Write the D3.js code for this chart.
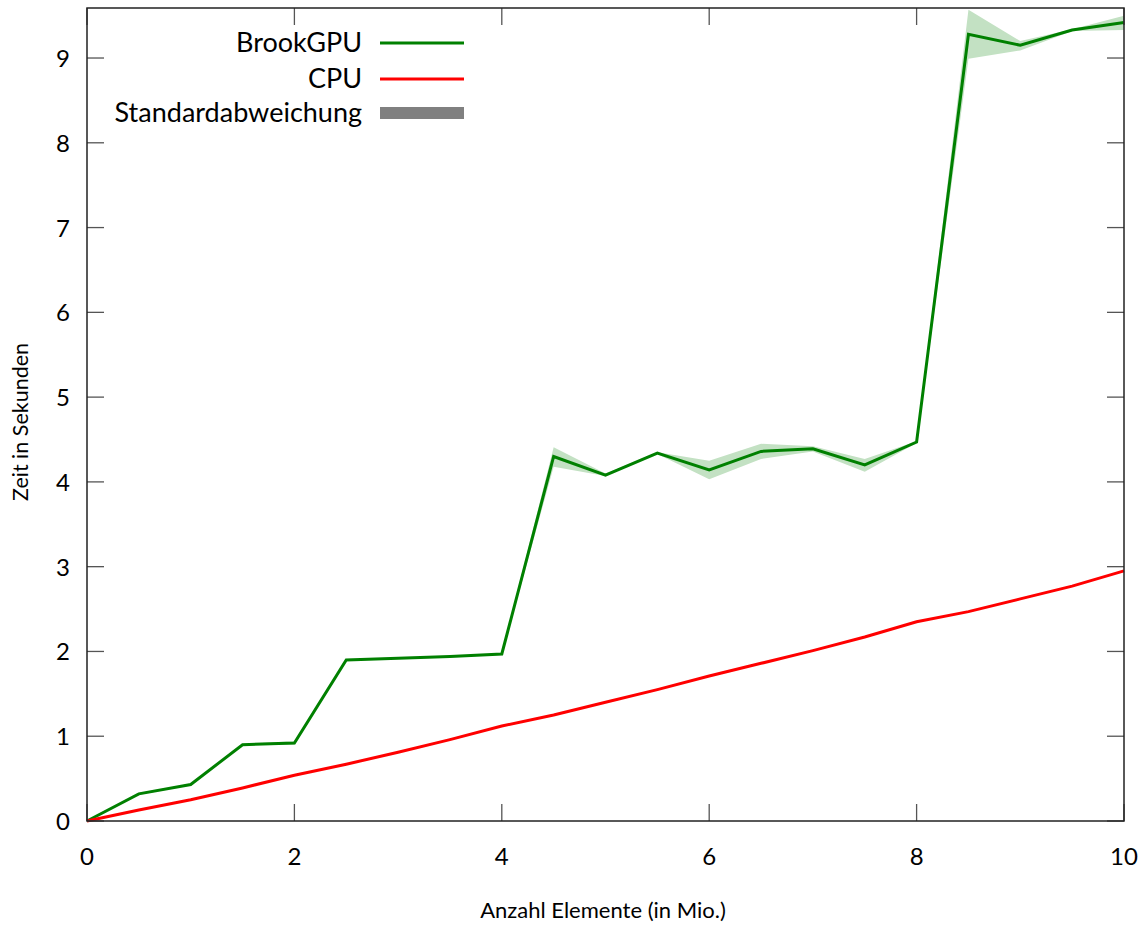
<!DOCTYPE html>
<html>
<head>
<meta charset="utf-8">
<script src="https://cdn.jsdelivr.net/npm/d3@7"></script>
<style>
  html, body { margin: 0; padding: 0; background: #fff; }
  svg text { font-family: Lato, "DejaVu Sans", sans-serif; fill: #000; }
</style>
</head>
<body>
<svg id="chart" width="1145" height="927"></svg>
<script>
// Problem size in millions of elements
const sizes = [0, 0.5, 1, 1.5, 2, 2.5, 3, 3.5, 4, 4.5, 5, 5.5, 6, 6.5, 7, 7.5, 8, 8.5, 9, 9.5, 10];
// Mean runtime (s) of the BrookGPU implementation
const gpuMean = [0, 0.32, 0.43, 0.90, 0.92, 1.90, 1.92, 1.94, 1.97, 4.30, 4.08, 4.34, 4.14, 4.36, 4.39, 4.20, 4.47, 9.28, 9.15, 9.33, 9.42];
// Standard deviation band of the BrookGPU runtimes (lower / upper)
const gpuLow  = [0, 0.31, 0.42, 0.89, 0.90, 1.89, 1.91, 1.93, 1.96, 4.18, 4.07, 4.33, 4.03, 4.27, 4.36, 4.12, 4.46, 8.99, 9.09, 9.32, 9.33];
const gpuHigh = [0, 0.33, 0.44, 0.91, 0.94, 1.91, 1.93, 1.95, 1.98, 4.41, 4.10, 4.35, 4.25, 4.45, 4.42, 4.27, 4.48, 9.57, 9.20, 9.34, 9.50];
// Mean runtime (s) on the CPU
const cpuMean = [0, 0.13, 0.25, 0.39, 0.54, 0.67, 0.81, 0.96, 1.12, 1.25, 1.40, 1.55, 1.71, 1.86, 2.01, 2.17, 2.35, 2.47, 2.62, 2.77, 2.95];

const xTicks = [0, 2, 4, 6, 8, 10];
const yTicks = [0, 1, 2, 3, 4, 5, 6, 7, 8, 9];
const legendLabels = ["BrookGPU", "CPU", "Standardabweichung"];

const svg = d3.select("#chart");
const plotL = 87, plotR = 1124, plotT = 8, plotB = 821;

const x = d3.scaleLinear().domain([0, 10]).range([plotL, plotR]);
const y = d3.scaleLinear().domain([0, 9.59]).range([plotB, plotT]);

const GREEN = "#008000", RED = "#ff0000", BAND = "#c3e1c3";

// standard deviation band
const area = d3.area()
  .x((d, i) => x(sizes[i]))
  .y0((d, i) => y(gpuLow[i]))
  .y1((d, i) => y(gpuHigh[i]));
svg.append("path").datum(sizes).attr("d", area).attr("fill", BAND);

const line = vals => d3.line().x((d, i) => x(sizes[i])).y((d, i) => y(vals[i]));
svg.append("path").attr("d", line(gpuMean)(sizes))
  .attr("fill", "none").attr("stroke", GREEN).attr("stroke-width", 3).attr("stroke-linejoin", "miter");
svg.append("path").attr("d", line(cpuMean)(sizes))
  .attr("fill", "none").attr("stroke", RED).attr("stroke-width", 3).attr("stroke-linejoin", "miter");

// mirrored ticks on all four sides
const TL = 17;
const tickG = svg.append("g").attr("stroke", "#555").attr("stroke-width", 1.3);
xTicks.forEach(t => {
  tickG.append("line").attr("x1", x(t)).attr("x2", x(t)).attr("y1", plotB).attr("y2", plotB - TL);
  tickG.append("line").attr("x1", x(t)).attr("x2", x(t)).attr("y1", plotT).attr("y2", plotT + TL);
});
yTicks.forEach(t => {
  tickG.append("line").attr("x1", plotL).attr("x2", plotL + TL).attr("y1", y(t)).attr("y2", y(t));
  tickG.append("line").attr("x1", plotR).attr("x2", plotR - TL).attr("y1", y(t)).attr("y2", y(t));
});

// frame
svg.append("rect").attr("x", plotL).attr("y", plotT).attr("width", plotR - plotL).attr("height", plotB - plotT)
  .attr("fill", "none").attr("stroke", "#222").attr("stroke-width", 1.5);

// tick labels
const tickFont = 24;
svg.append("g").selectAll("text").data(xTicks).join("text")
  .attr("x", d => x(d)).attr("y", 865).attr("text-anchor", "middle")
  .attr("font-size", tickFont).text(d => d);
svg.append("g").selectAll("text").data(yTicks).join("text")
  .attr("x", 70).attr("y", d => y(d) + 9).attr("text-anchor", "end")
  .attr("font-size", tickFont).text(d => d);

// axis titles
svg.append("text").attr("x", 603).attr("y", 918).attr("text-anchor", "middle")
  .attr("font-size", 22).text("Anzahl Elemente (in Mio.)");
svg.append("text").attr("transform", "translate(28,422) rotate(-90)").attr("text-anchor", "middle")
  .attr("font-size", 21.5).text("Zeit in Sekunden");

// legend
const lg = svg.append("g");
const legendY = [43, 79, 113];
legendLabels.forEach((lab, i) => {
  lg.append("text").attr("x", 362).attr("y", legendY[i] + 9).attr("text-anchor", "end")
    .attr("font-size", 27).text(lab);
});
lg.append("line").attr("x1", 380).attr("x2", 464).attr("y1", legendY[0]).attr("y2", legendY[0])
  .attr("stroke", GREEN).attr("stroke-width", 3);
lg.append("line").attr("x1", 380).attr("x2", 464).attr("y1", legendY[1]).attr("y2", legendY[1])
  .attr("stroke", RED).attr("stroke-width", 3);
lg.append("rect").attr("x", 380).attr("y", 107).attr("width", 84).attr("height", 12).attr("fill", "#808080");
</script>
</body>
</html>
